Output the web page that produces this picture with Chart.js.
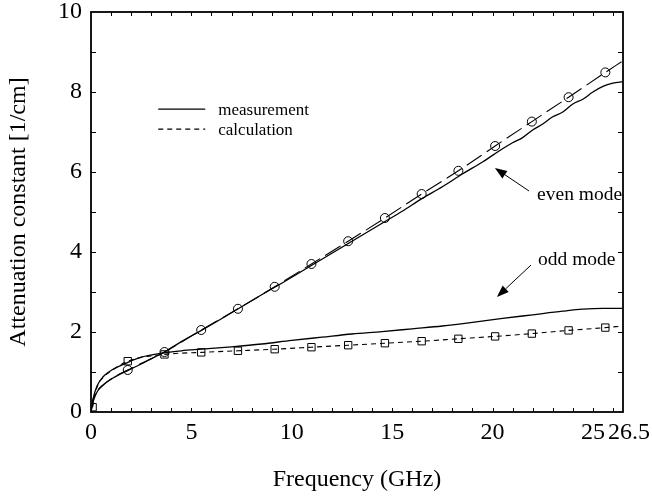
<!DOCTYPE html>
<html>
<head>
<meta charset="utf-8">
<script src="https://cdn.jsdelivr.net/npm/chart.js@4.4.0/dist/chart.umd.min.js"></script>
<style>
    html, body { margin: 0; padding: 0; background: #fff; }
    #wrap { width: 652px; height: 498px; }
</style>
</head>
<body>
<div id="wrap"><canvas id="chart" width="652" height="498"></canvas></div>
<script>
// ===== DATA =====
// even mode, measurement (solid)
const evenMeasX = [0, 0.1, 0.3, 0.6, 1.1, 1.8, 2.5, 3.0, 3.66, 4.5, 5.5, 6.5, 7.5, 8.5, 9.5, 10.5, 11.5, 12.5, 13.5, 14.5, 15.5, 16.5, 17.5, 18.5, 19.5, 20.5, 21.0, 21.5, 22.0, 22.5, 23.0, 23.5, 24.0, 24.5, 25.0, 25.5, 26.0, 26.5];
const evenMeasY = [0, 0.25, 0.5, 0.67, 0.85, 1.03, 1.2, 1.33, 1.5, 1.76, 2.04, 2.33, 2.63, 2.93, 3.22, 3.52, 3.82, 4.12, 4.42, 4.72, 5.02, 5.34, 5.63, 5.95, 6.25, 6.58, 6.73, 6.86, 7.05, 7.2, 7.38, 7.5, 7.7, 7.82, 8.0, 8.14, 8.22, 8.26];
// even mode, calculation (long dashes)
const evenCalcX = [0, 0.1, 0.3, 0.6, 1.1, 1.83, 3.66, 5.49, 7.32, 9.15, 10.98, 12.81, 14.64, 16.47, 18.3, 20.13, 21.96, 23.79, 25.62, 26.5];
const evenCalcY = [0, 0.3, 0.52, 0.68, 0.86, 1.05, 1.5, 2.05, 2.58, 3.13, 3.7, 4.27, 4.85, 5.45, 6.03, 6.65, 7.26, 7.87, 8.49, 8.78];
const evenMarkX = [1.83, 3.66, 5.49, 7.32, 9.15, 10.98, 12.81, 14.64, 16.47, 18.3, 20.13, 21.96, 23.79, 25.62];
const evenMarkY = [1.05, 1.5, 2.05, 2.58, 3.13, 3.7, 4.27, 4.85, 5.45, 6.03, 6.65, 7.26, 7.87, 8.49];
// odd mode, measurement (solid)
const oddMeasX = [0, 0.1, 0.3, 0.6, 1.1, 1.7, 2.5, 3.66, 4.5, 5.5, 7, 8.5, 10, 11.5, 13, 14.5, 16, 17.5, 19, 20.5, 22, 23.5, 24.5, 25.5, 26.5];
const oddMeasY = [0, 0.32, 0.65, 0.88, 1.07, 1.21, 1.37, 1.48, 1.53, 1.57, 1.63, 1.7, 1.79, 1.87, 1.95, 2.01, 2.08, 2.15, 2.24, 2.34, 2.43, 2.52, 2.57, 2.59, 2.59];
// odd mode, calculation (short dashes)
const oddCalcX = [0.08, 0.3, 0.6, 1.1, 1.83, 3.66, 5.49, 7.32, 9.15, 10.98, 12.81, 14.64, 16.47, 18.3, 20.13, 21.96, 23.79, 25.62, 26.5];
const oddCalcY = [0.12, 0.62, 0.86, 1.06, 1.27, 1.44, 1.49, 1.53, 1.57, 1.62, 1.67, 1.72, 1.77, 1.83, 1.89, 1.96, 2.04, 2.11, 2.15];
const oddMarkX = [0.08, 1.83, 3.66, 5.49, 7.32, 9.15, 10.98, 12.81, 14.64, 16.47, 18.3, 20.13, 21.96, 23.79, 25.62];
const oddMarkY = [0.12, 1.27, 1.44, 1.49, 1.53, 1.57, 1.62, 1.67, 1.72, 1.77, 1.83, 1.89, 1.96, 2.04, 2.11];

// tick labels
const xTickVals = [0, 5, 10, 15, 20, 25, 26.5];
const xTickText = ['0', '5', '10', '15', '20', '25', '\u00a0\u00a026.5'];
const yTickVals = [0, 2, 4, 6, 8, 10];
const xMinorVals = [1, 2, 3, 4, 5, 6, 7, 8, 9, 10, 11, 12, 13, 14, 15, 16, 17, 18, 19, 20, 21, 22, 23, 24, 25, 26];
const yMinorVals = [1, 2, 3, 4, 5, 6, 7, 8, 9];

const legendItems = ['measurement', 'calculation'];
const modeLabels = ['even mode', 'odd mode'];

// ===== ANNOTATION PLACES (data units) =====
const legendPos = { x0: 3.35, x1: 5.69, tx: 6.34, y: [7.57, 7.07] };
const evenNote = { tx: 22.22, ty: 5.3, from: [21.82, 5.525], to: [20.12, 6.1] };
const oddNote = { tx: 22.27, ty: 3.675, from: [21.92, 3.675], to: [20.22, 2.875] };

const SERIF = "'Liberation Serif', 'Times New Roman', serif";
const pts = (xs, ys) => xs.map((x, i) => ({ x: x, y: ys[i] }));

// ===== frame, inner ticks, legend, arrows =====
const decorPlugin = {
    id: 'decor',
    afterDatasetsDraw(chart) {
        const ctx = chart.ctx;
        const xs = chart.scales.x, ys = chart.scales.y;
        const a = chart.chartArea;
        ctx.save();
        ctx.strokeStyle = '#000';
        ctx.fillStyle = '#000';

        // ticks pointing inward on all four sides
        ctx.lineWidth = 1;
        ctx.beginPath();
        xMinorVals.forEach(v => {
            const px = Math.round(xs.getPixelForValue(v)) + 0.5;
            ctx.moveTo(px, a.bottom); ctx.lineTo(px, a.bottom - 4);
            ctx.moveTo(px, a.top); ctx.lineTo(px, a.top + 4);
        });
        yMinorVals.forEach(v => {
            const py = Math.round(ys.getPixelForValue(v)) + 0.5;
            ctx.moveTo(a.left, py); ctx.lineTo(a.left + 5, py);
            ctx.moveTo(a.right, py); ctx.lineTo(a.right - 5, py);
        });
        ctx.stroke();

        // frame
        ctx.lineWidth = 1.8;
        ctx.strokeRect(a.left, a.top, a.right - a.left, a.bottom - a.top);

        // legend
        ctx.lineWidth = 1.2;
        legendItems.forEach((label, i) => {
            const py = ys.getPixelForValue(legendPos.y[i]);
            ctx.setLineDash(i === 0 ? [] : [5, 4]);
            ctx.beginPath();
            ctx.moveTo(xs.getPixelForValue(legendPos.x0), py);
            ctx.lineTo(xs.getPixelForValue(legendPos.x1), py);
            ctx.stroke();
            ctx.setLineDash([]);
            ctx.font = '17px ' + SERIF;
            ctx.textBaseline = 'alphabetic';
            ctx.textAlign = 'left';
            ctx.fillText(label, xs.getPixelForValue(legendPos.tx), py + 5.7);
        });

        // mode labels with arrows
        [evenNote, oddNote].forEach((n, i) => {
            ctx.font = '19.5px ' + SERIF;
            ctx.textBaseline = 'alphabetic';
            ctx.textAlign = 'left';
            ctx.fillText(modeLabels[i], xs.getPixelForValue(n.tx), ys.getPixelForValue(n.ty));

            const x1 = xs.getPixelForValue(n.from[0]), y1 = ys.getPixelForValue(n.from[1]);
            const x2 = xs.getPixelForValue(n.to[0]), y2 = ys.getPixelForValue(n.to[1]);
            const ang = Math.atan2(y2 - y1, x2 - x1);
            const hl = 12, hw = 4.5;
            const bx = x2 - hl * Math.cos(ang), by = y2 - hl * Math.sin(ang);
            ctx.lineWidth = 1;
            ctx.beginPath();
            ctx.moveTo(x1, y1); ctx.lineTo(bx, by);
            ctx.stroke();
            ctx.beginPath();
            ctx.moveTo(x2, y2);
            ctx.lineTo(bx + hw * Math.sin(ang), by - hw * Math.cos(ang));
            ctx.lineTo(bx - hw * Math.sin(ang), by + hw * Math.cos(ang));
            ctx.closePath();
            ctx.fill();
        });
        ctx.restore();
    }
};

const lineSet = (data, dash, width) => ({
    data: data,
    showLine: true,
    borderColor: '#000',
    borderWidth: width,
    borderDash: dash,
    pointRadius: 0,
    pointHoverRadius: 0,
    tension: 0,
    cubicInterpolationMode: 'monotone',
    fill: false
});

const markSet = (data, style, r) => ({
    data: data,
    showLine: false,
    pointStyle: style,
    pointRadius: r,
    pointBorderColor: '#000',
    pointBackgroundColor: 'rgba(0,0,0,0)',
    pointBorderWidth: 1
});

new Chart(document.getElementById('chart'), {
    type: 'scatter',
    data: {
        datasets: [
            lineSet(pts(evenMeasX, evenMeasY), [], 1.3),
            lineSet(pts(oddMeasX, oddMeasY), [], 1.3),
            lineSet(pts(evenCalcX, evenCalcY), [18, 6], 1.1),
            lineSet(pts(oddCalcX, oddCalcY), [5, 4], 1.1),
            markSet(pts(evenMarkX, evenMarkY), 'circle', 4.5),
            markSet(pts(oddMarkX, oddMarkY), 'rect', 5.2)
        ]
    },
    options: {
        responsive: false,
        animation: false,
        events: [],
        layout: { padding: { left: 0, right: 29, top: 12, bottom: 0 } },
        plugins: { legend: { display: false }, tooltip: { enabled: false } },
        scales: {
            x: {
                type: 'linear',
                position: 'bottom',
                min: 0,
                max: 26.5,
                grid: { display: false, drawTicks: false },
                border: { display: false },
                afterBuildTicks: s => { s.ticks = xTickVals.map(v => ({ value: v })); },
                afterFit: s => { s.height = 86; s.paddingLeft = 0; s.paddingRight = 0; },
                ticks: {
                    color: '#000',
                    font: { family: SERIF, size: 24 },
                    padding: 6,
                    maxRotation: 0,
                    autoSkip: false,
                    callback: (v, i) => xTickText[i]
                },
                title: {
                    display: true,
                    text: 'Frequency (GHz)',
                    color: '#000',
                    font: { family: SERIF, size: 24 },
                    padding: { top: 0, bottom: 4 }
                }
            },
            y: {
                type: 'linear',
                min: 0,
                max: 10,
                grid: { display: false, drawTicks: false },
                border: { display: false },
                afterBuildTicks: s => { s.ticks = yTickVals.map(v => ({ value: v })); },
                afterFit: s => { s.width = 91; s.paddingTop = 0; s.paddingBottom = 0; },
                ticks: {
                    color: '#000',
                    font: { family: SERIF, size: 24 },
                    padding: 9,
                    callback: v => String(v)
                },
                title: {
                    display: true,
                    text: 'Attenuation constant [1/cm]',
                    color: '#000',
                    font: { family: SERIF, size: 24 },
                    padding: { top: 4, bottom: 0 }
                }
            }
        }
    },
    plugins: [decorPlugin]
});
</script>
</body>
</html>
